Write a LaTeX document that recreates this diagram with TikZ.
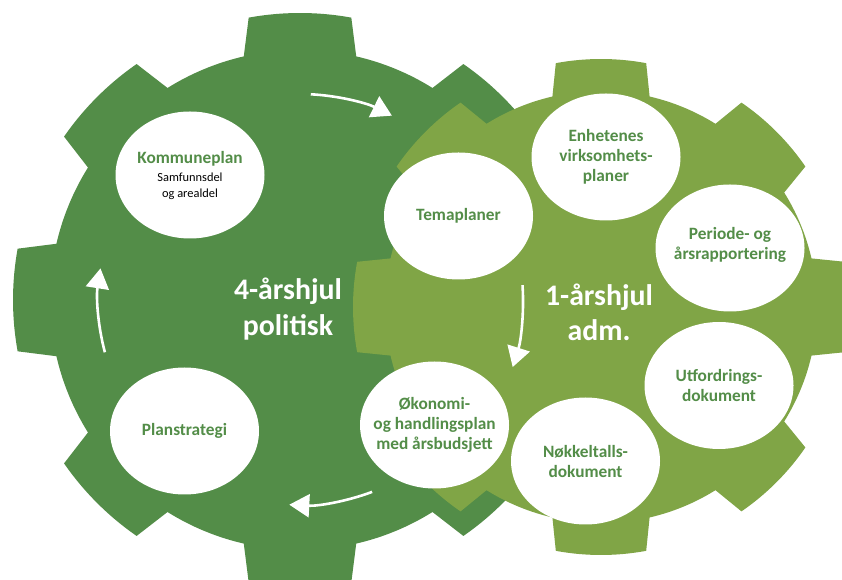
\documentclass[tikz,border=0pt]{standalone}
\usepackage{fontspec}
\setmainfont{Carlito}
\usetikzlibrary{shapes.geometric,arrows.meta}
\definecolor{dgreen}{RGB}{83,141,72}
\definecolor{lgreen}{RGB}{128,165,70}
\newcommand\smalltxt{\mdseries\color{black}\fontsize{12.4}{14}\selectfont}
\begin{document}
\begin{tikzpicture}[x=1pt,y=1pt,
  bub/.style={ellipse,fill=white,minimum width=149pt,minimum height=127pt,inner sep=0pt},
  lbl/.style={align=center,text=dgreen,inner sep=0pt,font=\bfseries\fontsize{17.3}{20}\selectfont},
  big/.style={align=center,text=white,inner sep=0pt,font=\bfseries\fontsize{29.8}{35.5}\selectfont},
  cyc/.style={white,line width=2.6pt,-{Triangle[length=20pt,width=23pt]}}]
\useasboundingbox (0,0) rectangle (842,580);
\fill[white] (0,0) rectangle (842,580);
% gear centres
\coordinate (L) at (300,280);
\coordinate (R) at (601,273);
% dark gear
\begin{scope}[shift={(L)}]
\fill[dgreen] (-32:250)
  \foreach \a in {0,45,...,315}{
    arc[start angle=\a-32, end angle=\a-13, radius=250]
    -- ({\a-10.3}:287)
    arc[start angle=\a-10.3, end angle=\a+10.3, radius=287]
    -- ({\a+13}:250)
  } -- cycle;
\end{scope}
% light gear
\begin{scope}[shift={(R)}]
\fill[lgreen] (-32:216)
  \foreach \a in {0,45,...,315}{
    arc[start angle=\a-32, end angle=\a-13, radius=216]
    -- ({\a-10.5}:248)
    arc[start angle=\a-10.5, end angle=\a+10.5, radius=248]
    -- ({\a+13}:216)
  } -- cycle;
\end{scope}
% bubbles
\node[bub] (kp) at (190,405) {};
\node[bub] (ps) at (184.5,149) {};
\node[bub] (tp) at (458.5,364) {};
\node[bub] (ev) at (606,423) {};
\node[bub] (pa) at (730,332) {};
\node[bub] (ud) at (719,194.5) {};
\node[bub] (nd) at (585.5,119) {};
\node[bub] (oh) at (434.5,155) {};
% labels
\node[lbl] (kpt) at (190,404) {Kommuneplan\\[-2pt]\smalltxt Samfunnsdel\\[-4pt]\smalltxt og arealdel};
\node[lbl] (pst) at (ps) {Planstrategi};
\node[lbl] (tpt) at (tp) {Temaplaner};
\node[lbl] (evt) at (ev) {Enhetenes\\virksomhets-\\planer};
\node[lbl] (pat) at (730,335) {Periode- og\\årsrapportering};
\node[lbl] (udt) at (ud) {Utfordrings-\\dokument};
\node[lbl] (ndt) at (nd) {Nøkkeltalls-\\dokument};
\node[lbl] (oht) at (oh) {Økonomi-\\og handlingsplan\\med årsbudsjett};
\node[big] (c4) at (288,271) {4-årshjul\\politisk};
\node[big] (c1) at (599,267.5) {1-årshjul\\adm.};
% cycle arrows
\draw[cyc] (L) ++(87:206) arc[start angle=87, end angle=63.5, radius=206];
\draw[cyc] (L) ++(3.8:223) arc[start angle=3.8, end angle=-17.5, radius=223];
\draw[cyc] (L) ++(-69.4:205) arc[start angle=-69.4, end angle=-93, radius=205];
\draw[cyc] (L) ++(195:202) arc[start angle=195, end angle=171, radius=202];
\end{tikzpicture}
\end{document}
